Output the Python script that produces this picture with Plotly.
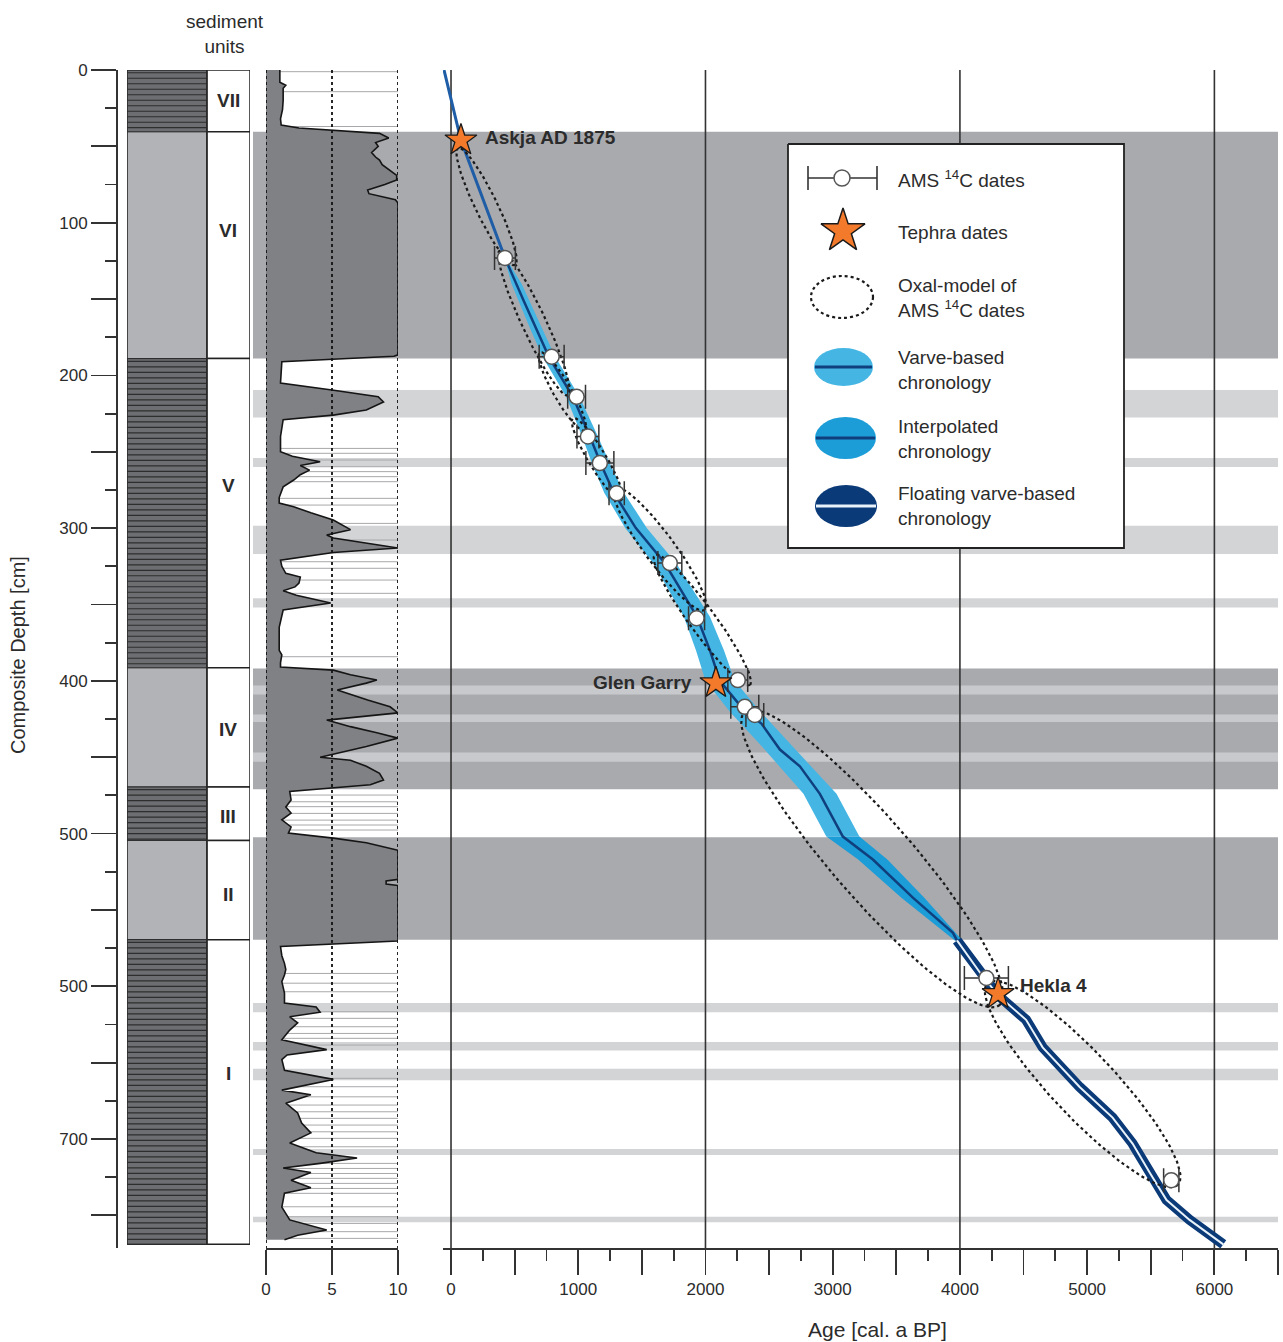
import numpy as np
import plotly.graph_objects as go

W, H = 1283, 1342
def fx(px): return px / W
def fy(py): return 1 - py / H

DEPTH_MAX = 771.4

# ---------------- data ----------------
unit_names = ["VII", "VI", "V", "IV", "III", "II", "I"]
unit_top = [0, 40.5, 189, 391.5, 469.5, 504.5, 569.5]
unit_bot = [40.5, 189, 391.5, 469.5, 504.5, 569.5, 769.0]
unit_laminated = [True, False, True, False, True, False, True]
unit_label_depth = [20, 105, 272, 432, 489, 540, 657]

band_top = [40.5, 209.5, 254, 298.5, 346, 392, 502.5, 611, 636.5, 654, 706.5, 751]
band_bot = [189, 227.5, 260, 317, 352, 471, 569.5, 617, 642, 661.5, 710.5, 754.5]
band_dark = [True, False, False, False, False, True, True, False, False, False, False, False]
stripe_top = [403, 422, 447]
stripe_bot = [409, 427, 453]

# thin event layers visible in the middle panel
layer_depth = [1.1, 14.2, 37,
               247.8, 251, 255.4, 259.8, 263, 266.3, 269.6, 280.5, 284.9, 296.9, 307.8, 322, 326.3, 334,
               342.7, 384.2,
               474.8, 479.2, 482.4, 486.8, 491.2, 494.4, 497.7,
               591.6, 598, 603.6, 616.7, 621, 626.5, 630.9, 634.1, 638.5, 660.3, 665.8, 672.4, 677.8, 682.2,
               686.5, 690.9, 695.3, 699.6, 705.1, 716, 719.3, 722.6, 725.8, 729.1, 732.4, 735.6, 744.4,
               750.9, 755.3, 760.7, 765.1]

curve_depth = [0, 8, 10, 12, 20, 26, 32, 36, 38, 39.5, 41.5, 44.5, 47.5, 50, 54, 57, 59, 62, 65.5, 69, 72,
               75, 78.6, 81, 85, 87, 186.5, 187.5, 191, 200, 205, 209.5, 214, 217.4, 222.6, 226, 229, 240,
               250, 253, 256.5, 259, 262, 265, 268.5, 273, 280, 283.6, 286, 290, 294.7, 301, 304.5, 306.5,
               310, 313, 316, 321, 325, 329.6, 332, 336, 338.5, 341, 344, 349, 353.6, 365, 380, 383, 388,
               391, 393, 396, 399.5, 401.5, 406, 409, 412.6, 417, 421, 425.7, 430, 434, 437.5, 443, 450,
               452, 456, 460.5, 465, 468, 470, 472.5, 478, 482.6, 486.6, 491, 495.7, 499.7, 503, 506, 511,
               530, 531, 533, 534, 570.4, 574, 580, 585, 589, 592.6, 597, 604.5, 611, 613.6, 617, 620, 624,
               628.7, 635, 641.5, 645, 648, 655, 661, 668, 671, 676.6, 683, 689.6, 696, 702.7, 709, 712.5,
               716, 719, 722, 727, 732, 735.5, 744.6, 753, 759.6, 763, 766]
curve_value = [1.05, 1.05, 1.5, 1.3, 1.3, 1.25, 1.1, 1.15, 2.5, 5.0, 8.6, 9.3, 8.3, 8.5, 8.0, 8.3, 8.6, 8.8, 9.4,
               9.9, 9.9, 9.0, 7.7, 7.8, 9.8, 10, 10, 9.7, 1.2, 1.1, 1.1, 5.0, 8.5, 8.9, 7.6, 5.1, 1.3, 1.1,
               1.1, 2.0, 4.1, 2.6, 3.3, 2.6, 2.1, 1.3, 1.0, 1.0, 2.1, 3.4, 5.1, 6.4, 4.6, 5.1, 7.6, 10, 5.1,
               1.1, 1.2, 1.5, 2.6, 2.5, 2.2, 1.3, 2.3, 4.9, 1.3, 1.0, 1.0, 1.2, 1.1, 1.1, 5.1, 6.4, 8.4, 7.6,
               5.4, 6.4, 7.7, 9.4, 10, 4.6, 6.4, 8.4, 10, 7.6, 4.1, 6.4, 7.6, 8.6, 8.9, 7.9, 5.1, 1.8, 1.9,
               1.5, 1.9, 1.2, 1.9, 1.7, 5.1, 7.6, 10, 10, 9.1, 9.1, 10, 10, 1.1, 1.2, 1.4, 1.5, 1.4, 1.2,
               1.4, 1.4, 3.8, 4.1, 1.8, 2.4, 1.8, 1.2, 4.6, 1.6, 1.2, 1.4, 5.1, 1.2, 3.4, 1.5, 2.4, 2.7,
               3.4, 1.8, 3.8, 6.9, 4.1, 1.3, 3.4, 1.9, 3.4, 1.4, 1.2, 1.8, 4.6, 2.4, 1.4]

age_ticks = list(range(0, 6501, 500))
age_gridlines = [0, 2000, 4000, 6000]
value_ticks = [0, 5, 10]
depth_ticks = list(range(0, 751, 50))
depth_ticktext = {0: "0", 100: "100", 200: "200", 300: "300", 400: "400", 500: "500", 600: "500", 700: "700"}

chron_depth = [0, 46, 123, 150, 188, 214, 240, 258, 277, 300, 323, 358, 380, 400, 420, 428, 445, 456, 474,
               502, 517, 542, 565, 570]
chron_age = [-55, 78, 424, 565, 770, 958, 1092, 1178, 1280, 1453, 1681, 1933, 2035, 2113, 2310, 2440, 2585,
             2742, 2899, 3080, 3316, 3630, 3945, 3977]
float_depth = [570, 591, 606, 622, 640, 666, 686, 703, 722, 740, 753, 769]
float_age = [3977, 4157, 4300, 4520, 4650, 4941, 5200, 5357, 5491, 5624, 5805, 6070]

varve_depth = [123, 140, 170, 188, 214, 240, 258, 277, 300, 323, 358, 380, 400, 420, 445, 474, 502]
varve_left = [420, 475, 625, 720, 905, 1030, 1110, 1205, 1370, 1590, 1830, 1925, 2000, 2190, 2465, 2770, 2950]
varve_right = [430, 555, 720, 820, 1010, 1155, 1250, 1360, 1540, 1770, 2035, 2145, 2230, 2430, 2710, 3030, 3210]
interp_depth = [502, 517, 542, 570]
interp_left = [2950, 3200, 3540, 3960]
interp_right = [3210, 3430, 3720, 4020]

ams_age = [424, 791, 987, 1076, 1170, 1302, 1720, 1930, 2254, 2309, 2388, 4208, 5661]
ams_depth = [123.1, 187.8, 214, 240, 257.4, 277.2, 322.9, 359, 399.5, 417, 422.4, 594.6, 727]
ams_err = [82, 98, 70, 86, 110, 60, 94, 63, 78, 110, 70, 173, 60]

tephra_name = ["Askja AD 1875", "Glen Garry", "Hekla 4"]
tephra_age = [78, 2082, 4300]
tephra_depth = [46, 401.4, 605]

# OxCal-model envelopes: endpoints (age, depth) and half width (px)
oval_a1 = [55, 385, 699, 958, 1288, 1602, 2309, 4218]
oval_d1 = [51, 118, 185, 228, 273.7, 317.6, 420.4, 597.9]
oval_a2 = [503, 919, 1052, 1343, 1995, 2349, 4313, 5711]
oval_d2 = [127.7, 213, 236, 281.6, 353.6, 402.7, 612.3, 730.2]
oval_w = [11, 12, 9, 9, 15, 13, 40, 32]

# ---------------- figure ----------------
SX = (1278 - 443) / (6500 + 63)      # px per year
SY = (1248 - 70) / DEPTH_MAX          # px per cm
HATCH_STEP = 3.6                      # cm spacing of lamination hatch lines

fig = go.Figure()

# lithology column
centers = [(t + b) / 2 for t, b in zip(unit_top, unit_bot)]
thick = [b - t for t, b in zip(unit_top, unit_bot)]
fig.add_trace(go.Bar(
    orientation="h", y=centers, x=[0.65] * len(centers), base=0, width=thick,
    xaxis="x3", yaxis="y",
    marker=dict(color=["#6d6e72" if l else "#b2b3b7" for l in unit_laminated],
                line=dict(color="#2a2a2a", width=1)),
    showlegend=False, hoverinfo="skip"))
hx, hy = [], []
for tp, bt, lam in zip(unit_top, unit_bot, unit_laminated):
    if lam:
        for d in np.arange(tp + HATCH_STEP / 2, bt, HATCH_STEP):
            hx += [0, 0.65, None]; hy += [d, d, None]
fig.add_trace(go.Scatter(x=hx, y=hy, xaxis="x3", yaxis="y", mode="lines",
                         line=dict(color="#2e2e2e", width=1.2), showlegend=False, hoverinfo="skip"))

# middle panel: thin event layers, curve with fill
lx, ly = [], []
for d in layer_depth:
    lx += [0, 10, None]; ly += [d, d, None]
fig.add_trace(go.Scatter(x=lx, y=ly, xaxis="x2", yaxis="y", mode="lines",
                         line=dict(color="#a8a8aa", width=1), showlegend=False, hoverinfo="skip"))
fig.add_trace(go.Scatter(x=curve_value, y=curve_depth, xaxis="x2", yaxis="y", mode="lines",
                         fill="tozerox", fillcolor="#808185", line=dict(color="#151515", width=1.6),
                         showlegend=False, hoverinfo="skip"))
vx, vy = [], []
for v in value_ticks:
    vx += [v, v, None]; vy += [0, DEPTH_MAX, None]
fig.add_trace(go.Scatter(x=vx, y=vy, xaxis="x2", yaxis="y", mode="lines",
                         line=dict(color="#111", width=1.8, dash="dot"), showlegend=False, hoverinfo="skip"))

# age gridlines
gx, gy = [], []
for a in age_gridlines:
    gx += [a, a, None]; gy += [0, DEPTH_MAX, None]
fig.add_trace(go.Scatter(x=gx, y=gy, mode="lines", line=dict(color="#333", width=1.6),
                         showlegend=False, hoverinfo="skip"))

# chronology bands
fig.add_trace(go.Scatter(x=varve_left + varve_right[::-1], y=varve_depth + varve_depth[::-1], mode="lines",
                         fill="toself", fillcolor="#45b6e4", line=dict(width=0), showlegend=False, hoverinfo="skip"))
fig.add_trace(go.Scatter(x=interp_left + interp_right[::-1], y=interp_depth + interp_depth[::-1], mode="lines",
                         fill="toself", fillcolor="#1c9dd7", line=dict(width=0), showlegend=False, hoverinfo="skip"))
k = chron_depth.index(123)
fig.add_trace(go.Scatter(x=chron_age[:k + 1], y=chron_depth[:k + 1], mode="lines",
                         line=dict(color="#1f5ea6", width=3), showlegend=False, hoverinfo="skip"))
fig.add_trace(go.Scatter(x=chron_age[k:], y=chron_depth[k:], mode="lines",
                         line=dict(color="#103f7e", width=2.5), showlegend=False, hoverinfo="skip"))
fig.add_trace(go.Scatter(x=float_age, y=float_depth, mode="lines",
                         line=dict(color="#0b3a78", width=10), showlegend=False, hoverinfo="skip"))
fig.add_trace(go.Scatter(x=float_age, y=float_depth, mode="lines",
                         line=dict(color="#e8f2fa", width=2), showlegend=False, hoverinfo="skip"))

# OxCal ovals
t = np.linspace(0, 2 * np.pi, 160)
for a1, d1, a2, d2, w in zip(oval_a1, oval_d1, oval_a2, oval_d2, oval_w):
    p1 = np.array([a1 * SX, d1 * SY]); p2 = np.array([a2 * SX, d2 * SY])
    c = (p1 + p2) / 2; v = (p2 - p1) / 2
    u = v / np.linalg.norm(v); perp = np.array([-u[1], u[0]])
    pts = c[None, :] + np.cos(t)[:, None] * v[None, :] + np.sin(t)[:, None] * w * perp[None, :]
    fig.add_trace(go.Scatter(x=pts[:, 0] / SX, y=pts[:, 1] / SY, mode="lines",
                             line=dict(color="#1a1a1a", width=2.2, dash="dot"), showlegend=False, hoverinfo="skip"))

# AMS dates
fig.add_trace(go.Scatter(x=ams_age, y=ams_depth, mode="markers",
                         marker=dict(symbol="circle", size=15, color="white", line=dict(color="#555", width=1.5)),
                         error_x=dict(type="data", array=ams_err, color="#333", thickness=1.5, width=12),
                         showlegend=False, hoverinfo="skip"))
# Tephra
fig.add_trace(go.Scatter(x=tephra_age, y=tephra_depth, mode="markers",
                         marker=dict(symbol="star", size=24, color="#f47a2b", line=dict(color="#1a1a1a", width=1.3)),
                         showlegend=False, hoverinfo="skip"))

# ---------------- legend (pixel overlay axis) ----------------
fig.add_trace(go.Scatter(x=[788, 1124, 1124, 788, 788], y=[144, 144, 548, 548, 144], xaxis="x4", yaxis="y4",
                         mode="lines", fill="toself", fillcolor="white", line=dict(color="#222", width=1.8),
                         showlegend=False, hoverinfo="skip"))
fig.add_trace(go.Scatter(x=[808, 877, None, 808, 808, None, 877, 877], y=[178, 178, None, 166, 190, None, 166, 190],
                         xaxis="x4", yaxis="y4", mode="lines", line=dict(color="#333", width=1.6),
                         showlegend=False, hoverinfo="skip"))
fig.add_trace(go.Scatter(x=[842], y=[178], xaxis="x4", yaxis="y4", mode="markers",
                         marker=dict(symbol="circle", size=16, color="white", line=dict(color="#555", width=1.5)),
                         showlegend=False, hoverinfo="skip"))
fig.add_trace(go.Scatter(x=[843], y=[231], xaxis="x4", yaxis="y4", mode="markers",
                         marker=dict(symbol="star", size=33, color="#f47a2b", line=dict(color="#1a1a1a", width=1.5)),
                         showlegend=False, hoverinfo="skip"))

shapes = []
for tp, bt, dk in zip(band_top, band_bot, band_dark):
    shapes.append(dict(type="rect", xref="paper", yref="y", x0=fx(253), x1=fx(1278), y0=tp, y1=bt,
                       fillcolor="#a9aaae" if dk else "#d3d4d6", line=dict(width=0), layer="below"))
for tp, bt in zip(stripe_top, stripe_bot):
    shapes.append(dict(type="rect", xref="paper", yref="y", x0=fx(253), x1=fx(1278), y0=tp, y1=bt,
                       fillcolor="#c8c9cc", line=dict(width=0), layer="below"))
for tp, bt in zip(unit_top, unit_bot):
    shapes.append(dict(type="rect", xref="x3", yref="y", x0=0.65, x1=1.0, y0=tp, y1=bt,
                       fillcolor="white", line=dict(color="#222", width=1.5), layer="above"))
shapes.append(dict(type="rect", xref="x3", yref="y", x0=0, x1=0.65, y0=unit_top[0], y1=unit_bot[-1],
                   line=dict(color="#2a2a2a", width=1.2), layer="above"))
# legend symbols
shapes.append(dict(type="circle", xref="x4", yref="y4", x0=811, x1=873, y0=276, y1=318,
                   line=dict(color="#1a1a1a", width=2.2, dash="dot"), layer="above"))
for (x0, x1, y0, y1, fc, lc) in [(814, 873, 348, 386, "#45b6e4", "#103f7e"),
                                 (815, 876, 417, 459, "#1c9dd7", "#103f7e"),
                                 (815, 877, 485, 527, "#0b3a78", "#e8f2fa")]:
    shapes.append(dict(type="circle", xref="x4", yref="y4", x0=x0, x1=x1, y0=y0, y1=y1,
                       fillcolor=fc, line=dict(width=0), layer="above"))
    ym = (y0 + y1) / 2
    shapes.append(dict(type="line", xref="x4", yref="y4", x0=x0 + 1, x1=x1 - 1, y0=ym, y1=ym,
                       line=dict(color=lc, width=3), layer="above"))

TXT = "#2b2b2b"
FONT = "Liberation Sans, Arial, sans-serif"
NARROW = "Liberation Sans Narrow, Arial Narrow, Liberation Sans, sans-serif"
ann = []
for txt, yy in [("AMS <sup>14</sup>C dates", 179), ("Tephra dates", 232),
                ("Oxal-model of<br>AMS <sup>14</sup>C dates", 298), ("Varve-based<br>chronology", 370),
                ("Interpolated<br>chronology", 439), ("Floating varve-based<br>chronology", 506)]:
    ann.append(dict(xref="x4", yref="y4", x=896, y=yy, text=txt, showarrow=False, xanchor="left",
                    yanchor="middle", align="left", font=dict(family=FONT, size=19, color=TXT)))
for nm, yd in zip(unit_names, unit_label_depth):
    ann.append(dict(xref="x3", yref="y", x=0.825, y=yd, text="<b>%s</b>" % nm, showarrow=False,
                    xanchor="center", yanchor="middle", font=dict(family=FONT, size=19, color=TXT)))
shifts = [(22, 3, "left"), (-22, 0, "right"), (20, 8, "left")]
for nm, a, d, (xs, ys, anc) in zip(tephra_name, tephra_age, tephra_depth, shifts):
    ann.append(dict(xref="x", yref="y", x=a, y=d, text="<b>%s</b>" % nm, showarrow=False, xanchor=anc,
                    yanchor="middle", xshift=xs, yshift=ys, font=dict(family=FONT, size=19, color=TXT)))
ann.append(dict(xref="paper", yref="paper", x=fx(225), y=fy(34), text="sediment<br>units", showarrow=False,
                xanchor="center", yanchor="middle", font=dict(family=FONT, size=19, color=TXT)))
ann.append(dict(xref="paper", yref="paper", x=fx(18), y=fy(655), text="Composite Depth [cm]", showarrow=False,
                xanchor="center", yanchor="middle", textangle=-90, font=dict(family=FONT, size=20, color=TXT)))
ann.append(dict(xref="paper", yref="paper", x=fx(877), y=fy(1329), text="Age [cal. a BP]", showarrow=False,
                xanchor="center", yanchor="middle", font=dict(family=NARROW, size=21, color=TXT)))

axcol = "#333"
fig.update_layout(
    width=W, height=H, margin=dict(l=0, r=0, t=0, b=0, pad=0, autoexpand=False),
    paper_bgcolor="white", plot_bgcolor="rgba(0,0,0,0)", showlegend=False, bargap=0,
    shapes=shapes, annotations=ann,
    xaxis=dict(domain=[fx(443), fx(1278)], range=[-63, 6500], anchor="y", automargin=False,
               tickmode="array", tickvals=age_ticks,
               ticktext=[str(a) if a % 1000 == 0 and a <= 6000 else "" for a in age_ticks],
               ticks="outside", ticklen=25, tickwidth=1.8, tickcolor=axcol,
               minor=dict(tickmode="array", tickvals=[a + 250 for a in age_ticks[:-1]], ticks="outside",
                          ticklen=11, tickwidth=1.8, tickcolor=axcol),
               showline=True, linecolor=axcol, linewidth=2, showgrid=False, zeroline=False,
               tickfont=dict(family=NARROW, size=17, color=TXT)),
    xaxis2=dict(domain=[fx(266), fx(398)], range=[0, 10], anchor="y", automargin=False,
                tickmode="array", tickvals=value_ticks,
                ticks="outside", ticklen=25, tickwidth=1.8, tickcolor=axcol, showline=True, linecolor=axcol,
                linewidth=2, showgrid=False, zeroline=False, tickfont=dict(family=FONT, size=17, color=TXT)),
    xaxis3=dict(domain=[fx(127), fx(250)], range=[0, 1], anchor="y", visible=False, automargin=False),
    yaxis=dict(domain=[fy(1248), fy(70)], range=[DEPTH_MAX, 0], anchor="free", position=fx(117), side="left",
               automargin=False,
               tickmode="array", tickvals=depth_ticks, ticktext=[depth_ticktext.get(d, "") for d in depth_ticks],
               ticks="outside", ticklen=25, tickwidth=1.8, tickcolor=axcol,
               minor=dict(tickmode="array", tickvals=[d + 25 for d in depth_ticks], ticks="outside",
                          ticklen=11, tickwidth=1.8, tickcolor=axcol),
               showline=True, linecolor=axcol, linewidth=2, showgrid=False, zeroline=False,
               tickfont=dict(family=FONT, size=17, color=TXT)),
    xaxis4=dict(domain=[0, 1], range=[0, W], anchor="y4", visible=False, automargin=False),
    yaxis4=dict(domain=[0, 1], range=[H, 0], anchor="x4", visible=False, automargin=False),
)

fig.write_html("out.html", config={"displayModeBar": False, "staticPlot": True},
               post_script="document.body.style.margin='0';document.body.style.overflow='hidden';")
